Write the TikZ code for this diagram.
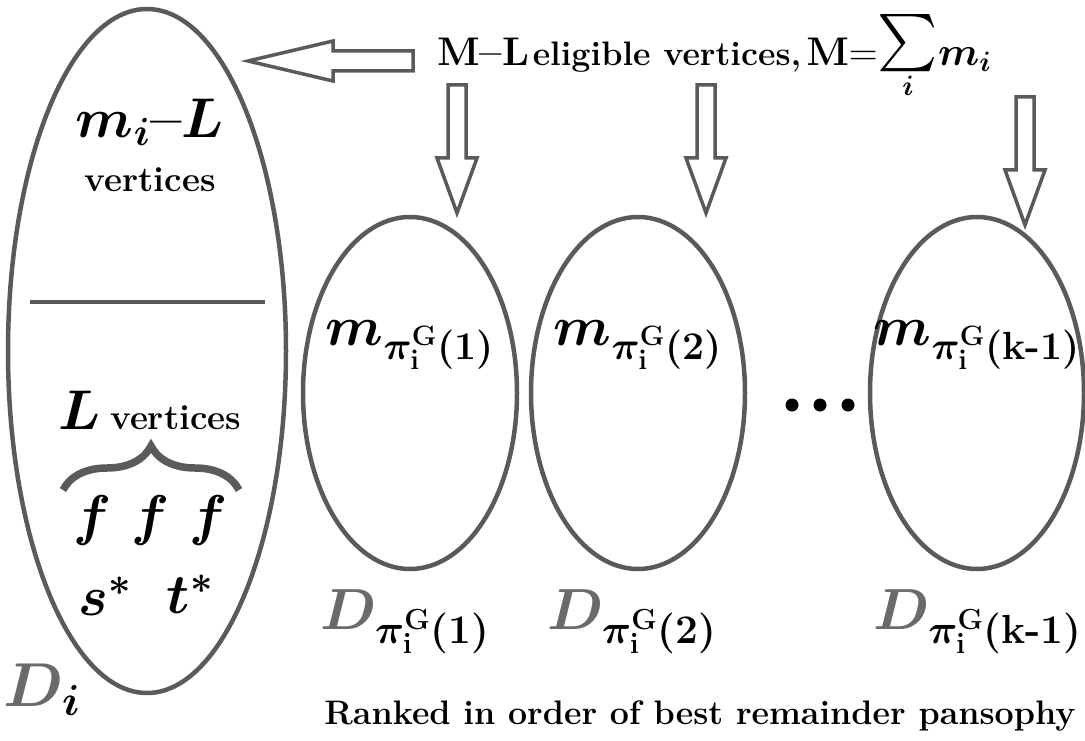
\RequirePackage{fix-cm}
\documentclass[tikz,border=0pt]{standalone}
\usepackage{exscale}
\usepackage{amsmath}
\usepackage{bm}
\usepackage{tikz}
\usetikzlibrary{positioning,shapes.geometric,decorations.pathreplacing,calc}
\definecolor{lineGray}{HTML}{5A5A5A}
\definecolor{labelGray}{HTML}{6A6A6A}

\begin{document}
\begin{tikzpicture}[x=1pt,y=-1pt,
  setline/.style={draw=lineGray,line width=4.5pt,ellipse,inner sep=0pt},
  blockarrow/.style={draw=lineGray,line width=3.5pt,line join=miter,fill=white},
  bigmath/.style={font=\fontsize{56}{60}\selectfont},
  dmath/.style={font=\fontsize{58}{62}\selectfont},
  midtext/.style={font=\fontsize{35}{40}\selectfont\bfseries}]
  \useasboundingbox (0,0) rectangle (1085,741);
  % left set D_i
  \node[setline,minimum width=278pt,minimum height=684pt] (setDi) at (147,351) {};
  \draw[lineGray,line width=4.5pt] (30,302) -- (265,302);
  \node[bigmath] (miL) at (150,122) {$\bm{m}_{\bm{i}}$\textbf{--}$\bm{L}$};
  \node[midtext] (miLtxt) at (150,180) {vertices};
  \node[bigmath] (Lv) at (150,410) {$\bm{L}$\,{\fontsize{35}{40}\selectfont\bfseries vertices}};
  \draw[lineGray,line width=7.5pt,decorate,decoration={brace,amplitude=44pt}] (63,490) -- (239,490);
  \foreach \fx [count=\k] in {92,150,208}
    \node[bigmath] (f\k) at (\fx,520) {$\bm{f}$};
  \node[bigmath] (sstar) at (105,596) {$\bm{s}^{\bm{*}}$};
  \node[bigmath] (tstar) at (190,594) {$\bm{t}^{\bm{*}}$};
  \node[font=\fontsize{62}{66}\selectfont,text=labelGray] (Di) at (42,690) {$\bm{D}_{\textcolor{black}{\bm{i}}}$};
  % eligible vertices
  \node[anchor=base west,inner sep=0pt] (elig) at (437,66)
    {{\fontsize{40}{44}\selectfont\bfseries M--L} {\fontsize{34}{40}\selectfont\bfseries eligible vertices,}\,
     {\fontsize{40}{44}\selectfont$\mathbf{M{=}}\!\mathop{\scalebox{2.3}{$\sum$}}\limits_{\bm{i}}\!\bm{m}_{\bm{i}}$}};
  \draw[blockarrow] (413,51) -- (333,51) -- (333,41) -- (248,61) -- (333,81) -- (333,71) -- (413,71) -- cycle;
  % ranked sets
  \foreach \n/\cx/\dx/\ax/\at/\lab in {1/410/405/457/85/1, 2/638/632/706/85/2, 3/977/978/1025/97/k-1}{
    \node[setline,minimum width=214pt,minimum height=352pt] (set\n) at (\cx,393) {};
    \node[bigmath] (m\n) at (\cx,345) {$\bm{m}_{\bm{\pi}^{\mathbf{G}}_{\mathbf{i}}\textbf{(\lab)}}$};
    \node[dmath,text=labelGray] (D\n) at (\dx,622) {$\bm{D}_{\textcolor{black}{\bm{\pi}^{\mathbf{G}}_{\mathbf{i}}\textbf{(\lab)}}}$};
    \pgfmathsetmacro{\hy}{\at+73}
    \pgfmathsetmacro{\ty}{\at+128}
    \draw[blockarrow] ({\ax-9},\at) -- ({\ax+9},\at) -- ({\ax+9},\hy) -- ({\ax+20},\hy)
      -- (\ax,\ty) -- ({\ax-20},\hy) -- ({\ax-9},\hy) -- cycle;
  }
  \foreach \dx in {792,820,848}
    \fill (\dx,405) circle (6.5);
  \node[font=\fontsize{34}{40}\selectfont\bfseries] (ranked) at (700,716) {Ranked in order of best remainder pansophy};
\end{tikzpicture}
\end{document}
